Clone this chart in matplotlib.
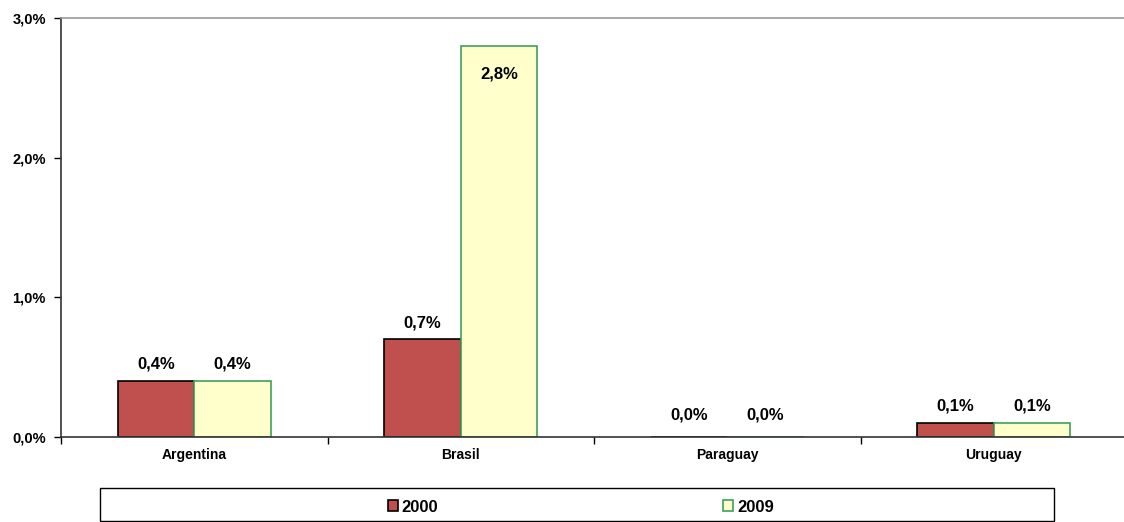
import matplotlib
matplotlib.use('Agg')
import matplotlib.pyplot as plt
import numpy as np
from matplotlib.patches import Rectangle

plt.rcParams['font.family'] = ['Liberation Sans', 'DejaVu Sans']
plt.rcParams['font.weight'] = 'bold'

countries = ['Argentina', 'Brasil', 'Paraguay', 'Uruguay']
years = ['2000', '2009']
v2000 = [0.4, 0.7, 0.0, 0.1]
v2009 = [0.4, 2.8, 0.0, 0.1]

fig = plt.figure(figsize=(11.24, 5.22), dpi=100)
ax = fig.add_axes([61 / 1124, 1 - 437 / 522, 1066 / 1124, 419 / 522])

x = np.arange(len(countries))
w = 0.287
b1 = ax.bar(x - w / 2, v2000, w, color='#C0504D', edgecolor='black', linewidth=1.2, label=years[0])
b2 = ax.bar(x + w / 2, v2009, w, color='#FFFFCC', edgecolor='#3F9F5F', linewidth=1.2, label=years[1])

for bars, vals in [(b1, v2000), (b2, v2009)]:
    for r, v in zip(bars, vals):
        txt = ('%.1f%%' % v).replace('.', ',')
        # tall bar gets its label inside, empty bars sit a bit higher
        if v > 2:
            dy = -20.5
        elif v == 0:
            dy = 15.5
        else:
            dy = 12
        ax.annotate(txt, (r.get_x() + r.get_width() / 2, v), xytext=(0, dy),
                    textcoords='offset points', ha='center', va='center',
                    fontsize=12, fontweight='bold')

ax.set_xlim(-0.5, 3.5)
ax.set_ylim(0, 3.0)
ax.set_yticks([0, 1, 2, 3])
ax.set_yticklabels(['0,0%', '1,0%', '2,0%', '3,0%'], fontsize=10.5, fontweight='bold')
ax.set_xticks(x)
ax.set_xticklabels(countries, fontsize=10, fontweight='bold')
ax.set_xticks(np.arange(-0.5, 4, 1), minor=True)
ax.tick_params(axis='x', which='major', length=0, pad=8)
ax.tick_params(axis='x', which='minor', length=5, direction='out', width=1)
ax.tick_params(axis='y', length=5, direction='out', width=1, pad=6)

ax.spines['left'].set_color('#333333')
ax.spines['bottom'].set_color('#333333')
ax.spines['left'].set_linewidth(1.2)
ax.spines['bottom'].set_linewidth(1.2)
ax.spines['top'].set_color('#999999')
ax.spines['top'].set_linewidth(1.2)
ax.spines['right'].set_visible(False)

# legend box
fig.patches.append(Rectangle((100 / 1124, 1 - 521 / 522), 954 / 1124, 33 / 522,
                             transform=fig.transFigure, facecolor='white',
                             edgecolor='black', linewidth=1))
leg = fig.legend(handles=[b1, b2], labels=years, loc='center',
                 bbox_to_anchor=(581 / 1124, 1 - 507 / 522), ncol=2, frameon=False,
                 prop={'size': 12, 'weight': 'bold'}, handlelength=0.6,
                 handleheight=0.6, handletextpad=0.25, columnspacing=17.1)

fig.savefig('out.png', dpi=100)
